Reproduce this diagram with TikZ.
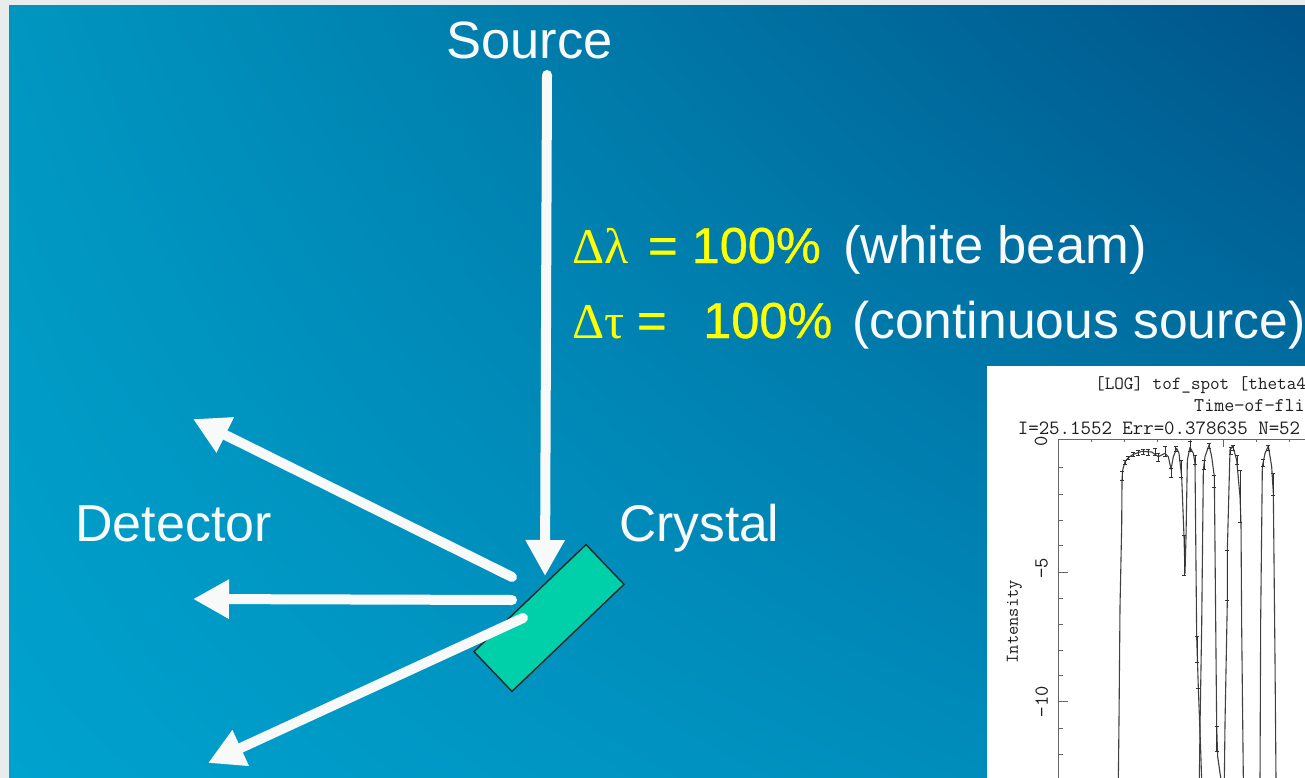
\documentclass[tikz,border=0pt]{standalone}
\usepackage{fontspec}
\setmainfont{Liberation Sans}
\newfontfamily\greekf{Liberation Serif}
\newfontfamily\valuef[FakeBold=0.7]{Liberation Sans}
\usetikzlibrary{arrows.meta,shadings}
\definecolor{marginc}{RGB}{232,236,236}
\definecolor{bgtl}{RGB}{0,150,192}
\definecolor{bgtr}{RGB}{0,84,138}
\definecolor{bgbl}{RGB}{0,162,206}
\definecolor{bgbr}{RGB}{0,134,182}
\definecolor{crystalc}{RGB}{0,208,170}
\definecolor{yellowc}{RGB}{255,255,0}
\definecolor{whitec}{RGB}{248,250,250}
\tikzset{
  label text/.style={anchor=base west,inner sep=0pt,text=whitec,font=\fontsize{52}{52}\selectfont},
  delta text/.style={anchor=base west,inner sep=0pt,text=yellowc,font=\fontsize{50}{50}\selectfont\greekf},
  value text/.style={anchor=base west,inner sep=0pt,text=yellowc,font=\fontsize{50.5}{50.5}\selectfont\valuef},
  beam/.style={draw=whitec,line width=10pt,line cap=round,-{Triangle[length=36pt,width=37pt]}},
  crystal box/.style={draw=black!85,line width=1.4pt,fill=crystalc,minimum width=155pt,minimum height=55pt,inner sep=0pt,rotate=43.7},
  plot text/.style={inner sep=0pt,text=black!88},
  curve/.style={draw=black!75,line width=1.1pt,line join=round},
  tick/.style={draw=black!60,line width=0.8pt},
}
\newcommand{\ebar}[3]{\draw[black!80,line width=0.9pt] (#1-6,#2) -- (#1+6,#2) (#1,#2) -- (#1,#3) (#1-6,#3) -- (#1+6,#3);}
\begin{document}
\begin{tikzpicture}[x=1pt,y=-1pt]
\path[use as bounding box,clip] (0,0) rectangle (1305,778);
\fill[marginc] (0,0) rectangle (1305,778);
\shade[upper left=bgtl,upper right=bgtr,lower left=bgbl,lower right=bgbr] (9,6) rectangle (1305,778);
% labels
\node[label text,font=\fontsize{52.5}{52.5}\selectfont] (source) at (446,59) {Source};
\node[label text] (detector) at (75,541) {Detector};
\node[label text,font=\fontsize{51.5}{51.5}\selectfont] (crystallabel) at (619,541) {Crystal};
\node[delta text] (deltal) at (572,263) {Δλ};
\node[value text] (valuel) at (648,263) {= 100\%};
\node[label text,font=\fontsize{52.5}{52.5}\selectfont] (whitebeam) at (843,263) {(white beam)};
\node[delta text] (deltat) at (572,338) {Δτ};
\node[value text] (eqt) at (637,338) {=};
\node[value text] (valuet) at (703,338) {100\%};
\node[label text,font=\fontsize{51.6}{51.6}\selectfont] (contsource) at (852,338) {(continuous source)};
% crystal
\node[crystal box] (crystal) at (549,618) {};
% beams
\coordinate (srcstart) at (547,75);
\coordinate (srctip) at (545,576);
\coordinate (up) at (512,577);
\coordinate (uptip) at (193,419);
\coordinate (mid) at (512,600);
\coordinate (midtip) at (193,599);
\coordinate (low) at (523,618);
\coordinate (lowtip) at (208,763);
\draw[beam] (srcstart) -- (srctip);
\draw[beam] (up) -- (uptip);
\draw[beam] (mid) -- (midtip);
\draw[beam] (low) -- (lowtip);
% inset plot
\fill[white] (987,366) rectangle (1305,778);
\begin{scope}[shift={(985pt,-360pt)},x=0.33333pt,y=-0.33333pt]
\node[plot text,anchor=base west,font=\ttfamily\fontsize{18.6}{18.6}\selectfont] (ptitle) at (330,88) {[LOG] tof\_spot [theta4};
\node[plot text,anchor=base west,font=\ttfamily\fontsize{19.5}{19.5}\selectfont] (psub) at (627,155) {Time−of−fli};
\node[plot text,anchor=base west,font=\ttfamily\fontsize{20.3}{20.3}\selectfont] (pinfo) at (98,222) {I=25.1552 Err=0.378635 N=52};
\node[plot text,rotate=90,font=\ttfamily\fontsize{18}{18}\selectfont] (ylab) at (88,785) {Intensity};
\node[plot text,rotate=90,font=\ttfamily\fontsize{20}{20}\selectfont] (t0) at (168,245) {0};
\node[plot text,rotate=90,font=\ttfamily\fontsize{20}{20}\selectfont] (t5) at (170,625) {−5};
\node[plot text,rotate=90,font=\ttfamily\fontsize{20}{20}\selectfont] (t10) at (170,1025) {−10};
\draw[tick] (220,1260) -- (220,237) -- (960,237);
\foreach \y in {323,402,481,557,715,792,871,947,1105,1182} \draw[tick] (220,\y) -- (235,\y);
\foreach \y in {636,1025} \draw[tick] (220,\y) -- (250,\y);
\foreach \x in {320,418,516,815,913} \draw[tick] (\x,237) -- (\x,247);
\foreach \x in {616,715} \draw[tick] (\x,237) -- (\x,262);
\draw[curve] (400,1260) -- (402,1080) -- (405,740) -- (410,500) -- (411,360) -- (413,330) -- (420,305) -- (430,293) -- (445,283) -- (470,274) -- (500,276) -- (520,290) -- (540,280) -- (550,290) -- (558,328) -- (565,290) -- (575,265) -- (582,280) -- (590,350) -- (597,530) -- (600,640) -- (603,530) -- (607,300) -- (615,262) -- (625,280) -- (630,310) -- (635,830) -- (640,985) -- (647,1170) -- (650,1260);
\draw[curve] (643,1260) -- (645,1100) -- (650,800) -- (655,330) -- (660,290) -- (672,255) -- (680,290) -- (688,350) -- (695,1100) -- (698,1190) -- (708,1260);
\draw[curve] (718,1260) -- (720,1090) -- (727,720) -- (727,570) -- (735,270) -- (743,258) -- (755,300) -- (765,410) -- (768,490) -- (770,800) -- (775,1260);
\draw[curve] (825,1260) -- (827,780) -- (832,320) -- (840,280) -- (850,258) -- (860,320) -- (865,400) -- (870,900) -- (873,1260);
\ebar{411}{335}{362}\ebar{420}{300}{313}\ebar{430}{288}{298}\ebar{445}{278}{290}\ebar{460}{270}{285}\ebar{475}{267}{282}\ebar{490}{267}{285}\ebar{510}{265}{285}\ebar{520}{280}{303}\ebar{540}{260}{290}\ebar{558}{325}{352}\ebar{572}{258}{275}\ebar{589}{300}{352}\ebar{597}{527}{645}\ebar{615}{245}{275}\ebar{630}{285}{312}\ebar{637}{830}{908}\ebar{640}{985}{985}\ebar{657}{300}{328}\ebar{672}{250}{265}\ebar{688}{345}{382}\ebar{695}{1100}{1175}\ebar{727}{570}{720}\ebar{737}{262}{282}\ebar{745}{255}{270}\ebar{757}{285}{312}\ebar{765}{330}{488}\ebar{835}{298}{320}\ebar{850}{255}{270}\ebar{865}{340}{405}
\end{scope}
\end{tikzpicture}
\end{document}
